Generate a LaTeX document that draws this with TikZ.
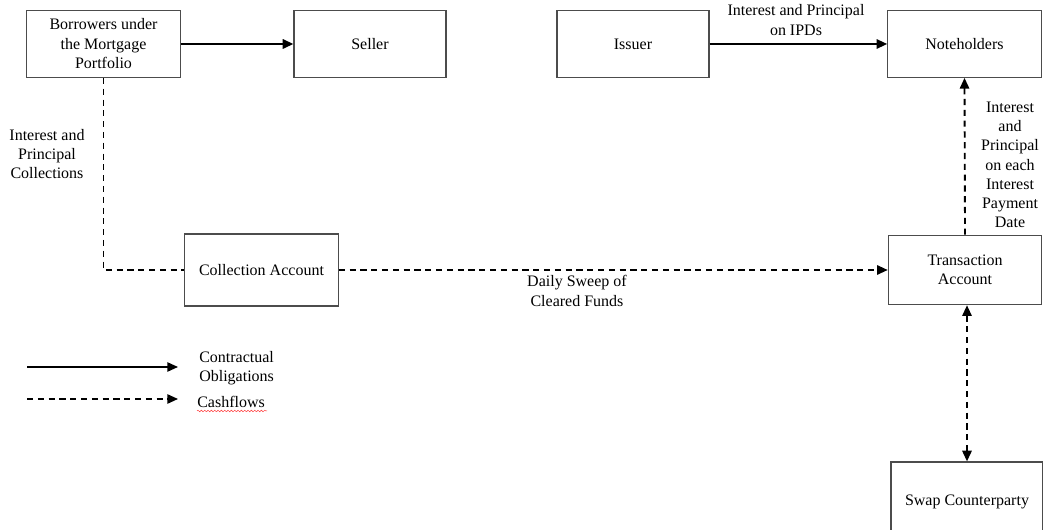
\documentclass[tikz,border=0pt]{standalone}
\usepackage{fontspec}
\setmainfont{Liberation Serif}
\usetikzlibrary{arrows.meta,decorations.pathmorphing}
\begin{document}
\begin{tikzpicture}[x=0.75pt,y=-0.75pt,
  box/.style={draw=black!70,line width=0.9pt,fill=white,align=center,
    inner sep=2pt,font=\fontsize{12}{14.6}\selectfont},
  lbl/.style={align=center,inner sep=0pt,font=\fontsize{12}{14.4}\selectfont},
  tip/.style={-{Triangle[length=8pt,width=7pt]}},
  flow/.style={line width=1.6pt,tip},
  cash/.style={line width=1.4pt,dash pattern=on 4.6pt off 3.5pt},
]
\useasboundingbox (0,0) rectangle (1043,530);
\clip (0,0) rectangle (1043,530);

% parties
\node[box,minimum width=115pt,minimum height=50pt] (borrowers) at (103.5,44)
  {Borrowers under\\the Mortgage\\Portfolio};
\node[box,minimum width=114pt,minimum height=50pt] (seller) at (370,44) {Seller};
\node[box,minimum width=114pt,minimum height=50pt] (issuer) at (633,44) {Issuer};
\node[box,minimum width=115pt,minimum height=50pt] (noteholders) at (964.5,44) {Noteholders};
\node[box,minimum width=115pt,minimum height=54pt] (collection) at (261.5,270) {Collection Account};
\node[box,minimum width=115pt,minimum height=52pt] (transaction) at (965,270) {Transaction\\Account};
\node[box,minimum width=114pt,minimum height=60pt] (swap) at (967,502) {Swap Counterparty};

% contractual obligations
\draw[flow] (borrowers) -- (seller);
\draw[flow] (issuer) -- (noteholders);
\node[lbl] (ipd) at (796,20) {Interest and Principal\\on IPDs};

% cashflows
\draw[cash] (borrowers.south) |- (collection.west);
\node[lbl] (collections) at (47,154) {Interest and\\Principal\\Collections};
\draw[cash,tip] (collection) -- (transaction);
\node[lbl] (sweep) at (577,291) {Daily Sweep of\\Cleared Funds};
\draw[cash,tip] (transaction.north) -- (noteholders.south);
\node[lbl] (payment) at (1010,165) {Interest\\and\\Principal\\on each\\Interest\\Payment\\Date};
\draw[cash,{Triangle[length=8pt,width=7pt]}-{Triangle[length=8pt,width=7pt]}]
  (transaction.south -| swap.north) -- (swap.north);

% legend
\coordinate (l1a) at (27,367);
\coordinate (l1b) at (178,367);
\coordinate (l2a) at (27,399);
\coordinate (l2b) at (178,399);
\draw[line width=1.1pt,tip] (l1a) -- (l1b);
\draw[cash,line width=1.2pt,tip] (l2a) -- (l2b);
\node[lbl,align=left,anchor=west] (contract) at (199,368) {Contractual\\Obligations};
\node[lbl,anchor=west] (cashflows) at (197,402) {Cashflows};
\draw[red!80,line width=0.35pt,decorate,decoration={snake,amplitude=0.6pt,segment length=2.5pt}]
  (cashflows.south west) ++(0,3) -- ++(70,0);
\end{tikzpicture}
\end{document}
